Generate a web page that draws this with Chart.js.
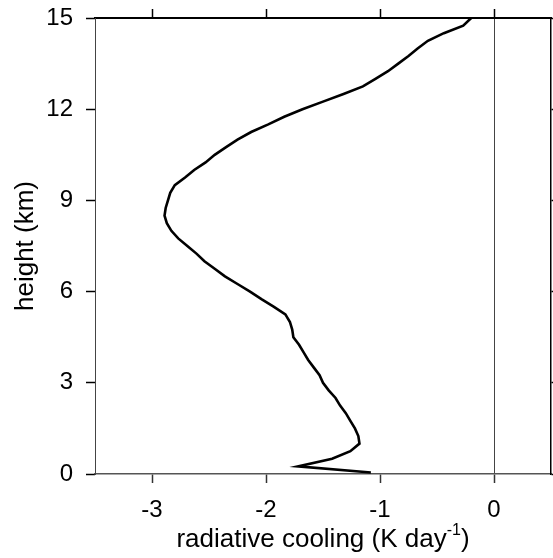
<!DOCTYPE html>
<html>
<head>
<meta charset="utf-8">
<script src="https://cdn.jsdelivr.net/npm/chart.js@4/dist/chart.umd.min.js"></script>
<style>
html,body{margin:0;padding:0;background:#fff;}
#wrap{width:553px;height:558px;position:relative;}
</style>
</head>
<body>
<div id="wrap"><canvas id="c" width="553" height="558"></canvas></div>
<script>
// heights (km), from top to bottom
const heights = [15.0,14.75,14.5,14.25,14.0,13.75,13.5,13.25,13.0,12.75,12.5,12.25,12.0,11.75,11.5,11.25,11.0,10.75,10.5,10.25,10.0,9.75,9.5,9.25,9.0,8.75,8.5,8.25,8.0,7.75,7.5,7.25,7.0,6.75,6.5,6.25,6.0,5.75,5.5,5.25,5.0,4.75,4.5,4.25,4.0,3.75,3.5,3.25,3.0,2.75,2.5,2.25,2.0,1.75,1.5,1.25,1.0,0.75,0.5,0.25,0.05];
// radiative cooling (K/day)
const cooling = [-0.20,-0.27,-0.44,-0.58,-0.67,-0.75,-0.84,-0.93,-1.04,-1.15,-1.32,-1.50,-1.68,-1.84,-1.98,-2.13,-2.25,-2.35,-2.45,-2.53,-2.63,-2.71,-2.80,-2.84,-2.86,-2.88,-2.89,-2.87,-2.83,-2.77,-2.69,-2.61,-2.54,-2.45,-2.36,-2.25,-2.14,-2.04,-1.93,-1.83,-1.79,-1.77,-1.76,-1.71,-1.67,-1.63,-1.58,-1.53,-1.50,-1.45,-1.39,-1.35,-1.30,-1.26,-1.22,-1.19,-1.18,-1.26,-1.42,-1.72,-1.08];
const xTicks = [-3,-2,-1,0];
const yTicks = [0,3,6,9,12,15];
const xTitle = "radiative cooling (K day";
const xTitleSup = "-1";
const yTitle = "height (km)";

const FONT = "'Liberation Sans', Arial, sans-serif";
const points = heights.map((h,i)=>({x:cooling[i], y:h}));

const setTicks = arr => scale => { scale.ticks = arr.map(v=>({value:v})); };
const noPad = s => { s.paddingTop = 0; s.paddingBottom = 0; s.paddingLeft = 0; s.paddingRight = 0; };

const titlePlugin = {
  id:'titles',
  afterDraw(chart){
    const ctx = chart.ctx, a = chart.chartArea;
    ctx.save();
    ctx.fillStyle = '#000';
    ctx.font = '26px ' + FONT;
    const w1 = ctx.measureText(xTitle).width;
    ctx.font = '16px ' + FONT;
    const w2 = ctx.measureText(xTitleSup).width;
    ctx.font = '26px ' + FONT;
    const w3 = ctx.measureText(')').width;
    const total = w1 + w2 + w3;
    let x0 = (a.left + a.right)/2 - total/2;
    const base = 547;
    ctx.textBaseline = 'alphabetic';
    ctx.textAlign = 'left';
    ctx.fillText(xTitle, x0, base);
    ctx.font = '16px ' + FONT;
    ctx.fillText(xTitleSup, x0 + w1, base - 12);
    ctx.font = '26px ' + FONT;
    ctx.fillText(')', x0 + w1 + w2, base);
    ctx.translate(26, (a.top + a.bottom)/2);
    ctx.rotate(-Math.PI/2);
    ctx.textAlign = 'center';
    ctx.textBaseline = 'middle';
    ctx.fillText(yTitle, 0, 0);
    ctx.restore();
  }
};

new Chart(document.getElementById('c'), {
  type:'scatter',
  data:{datasets:[{
    data: points,
    showLine:true,
    borderColor:'#000',
    borderWidth:2.6,
    pointRadius:0,
    tension:0,
    fill:false
  }]},
  options:{
    responsive:false,
    animation:false,
    devicePixelRatio:1,
    layout:{padding:0},
    plugins:{legend:{display:false}, tooltip:{enabled:false}},
    scales:{
      x:{
        type:'linear', position:'bottom', min:-3.5, max:0.5,
        afterBuildTicks: setTicks(xTicks),
        afterFit: s => { s.height = 84; noPad(s); },
        border:{display:true, color:'#555', width:1.5},
        grid:{
          drawOnChartArea:true, drawTicks:true, tickLength:9,
          color: c => (c.tick && c.tick.value === 0) ? '#444' : 'rgba(0,0,0,0)',
          lineWidth:1, tickColor:'#333', tickWidth:1.5
        },
        ticks:{color:'#000', font:{family:FONT, size:24}, padding:13, maxRotation:0, autoSkip:false}
      },
      x2:{
        type:'linear', position:'top', min:-3.5, max:0.5,
        afterBuildTicks: setTicks(xTicks),
        afterFit: s => { s.height = 18; noPad(s); },
        border:{display:true, color:'#000', width:2},
        grid:{drawOnChartArea:false, drawTicks:true, tickLength:9, color:'#000', tickColor:'#000', tickWidth:1.5},
        ticks:{display:false}
      },
      y:{
        type:'linear', position:'left', min:0, max:15,
        afterBuildTicks: setTicks(yTicks),
        afterFit: s => { s.width = 95; noPad(s); },
        border:{display:true, color:'#444', width:1},
        grid:{drawOnChartArea:false, drawTicks:true, tickLength:9, color:'#000', tickColor:'#000', tickWidth:1.5},
        ticks:{color:'#000', font:{family:FONT, size:24}, padding:13, autoSkip:false}
      },
      y2:{
        type:'linear', position:'right', min:0, max:15,
        afterBuildTicks: setTicks(yTicks),
        afterFit: s => { s.width = 2; noPad(s); },
        border:{display:true, color:'#000', width:1.5},
        grid:{drawOnChartArea:false, drawTicks:true, tickLength:9, color:'#000', tickColor:'#000', tickWidth:1.5},
        ticks:{display:false}
      }
    }
  },
  plugins:[titlePlugin]
});
</script>
</body>
</html>
